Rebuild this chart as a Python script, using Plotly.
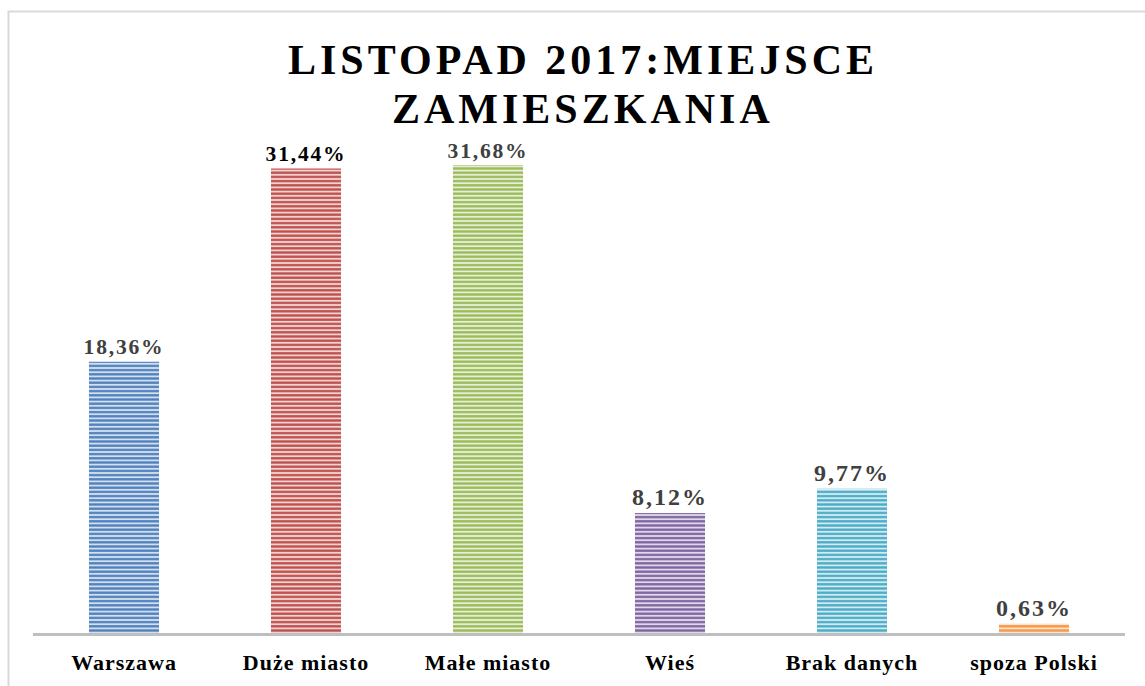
import plotly.graph_objects as go

categories = ["Warszawa", "Duże miasto", "Małe miasto", "Wieś", "Brak danych", "spoza Polski"]
values = [18.36, 31.44, 31.68, 8.12, 9.77, 0.63]
labels = ["18,36%", "31,44%", "31,68%", "8,12%", "9,77%", "0,63%"]
colors = ["#4F81BD", "#C0504D", "#9BBB59", "#8064A2", "#4BACC6", "#F79646"]
light_colors = ["#D3DFEE", "#EFD3D2", "#E6EED5", "#DFD8E8", "#D2EAF1", "#FDE4D0"]
label_colors = ["#404040", "#000000", "#404040", "#404040", "#404040", "#404040"]
title_lines = ["LISTOPAD 2017:MIEJSCE", "ZAMIESZKANIA"]

fig = go.Figure()
for cat, val, lab, col, lcol, tcol in zip(categories, values, labels, colors, light_colors, label_colors):
    fig.add_trace(go.Bar(
        x=[cat],
        y=[val],
        text=[lab],
        textposition="outside",
        cliponaxis=False,
        textfont=dict(family="Liberation Serif", size=24, color=tcol, weight="bold"),
        marker=dict(
            color=col,
            line=dict(width=0),
            pattern=dict(shape="-", fgcolor=col, bgcolor=lcol, size=4.2,
                         solidity=0.55, fillmode="replace"),
        ),
        width=0.385,
        hoverinfo="skip",
    ))

W, H = 1145, 686
ml, mr, mt, mb = 33, 20, 116, 53
pw = W - ml - mr
ph = H - mt - mb

def px_to_paper_x(px):
    return (px - ml) / pw

def px_to_paper_y(py):
    return (H - mb - py) / ph

fig.add_shape(
    type="rect", xref="paper", yref="paper",
    x0=px_to_paper_x(8.5), x1=px_to_paper_x(1160),
    y0=px_to_paper_y(700), y1=px_to_paper_y(11.5),
    line=dict(color="#D9D9D9", width=2), fillcolor="rgba(0,0,0,0)", layer="below",
)

title_tops = [34.5, 83.5]
for line, top in zip(title_lines, title_tops):
    fig.add_annotation(
        text=line, xref="paper", yref="paper",
        x=px_to_paper_x(583), y=px_to_paper_y(top),
        xanchor="center", yanchor="top", showarrow=False,
        font=dict(family="Liberation Serif", size=42, color="#000000", weight="bold"),
    )

fig.update_layout(
    width=W, height=H,
    margin=dict(l=ml, r=mr, t=mt, b=mb, autoexpand=False),
    paper_bgcolor="white",
    plot_bgcolor="white",
    showlegend=False,
    barmode="overlay",
    xaxis=dict(
        automargin=False,
        showgrid=False, zeroline=False,
        showline=True, linecolor="#BFBFBF", linewidth=2.5,
        ticks="outside", ticklen=8, tickcolor="rgba(0,0,0,0)",
        tickfont=dict(family="Liberation Serif", size=22, color="#000000", weight="bold"),
    ),
    yaxis=dict(
        automargin=False,
        range=[0, 35], visible=False, showgrid=False, zeroline=False,
    ),
)

post = """
document.body.style.margin='0';
document.body.style.overflow='hidden';
document.querySelectorAll('.annotation-text').forEach(function(e){e.setAttribute('letter-spacing','4px');});
document.querySelectorAll('.bartext').forEach(function(e){e.setAttribute('letter-spacing','2px');});
document.querySelectorAll('.xtick text').forEach(function(e){e.setAttribute('letter-spacing','1px');});
"""
fig.write_html("out.html", post_script=post, config={"displayModeBar": False})
